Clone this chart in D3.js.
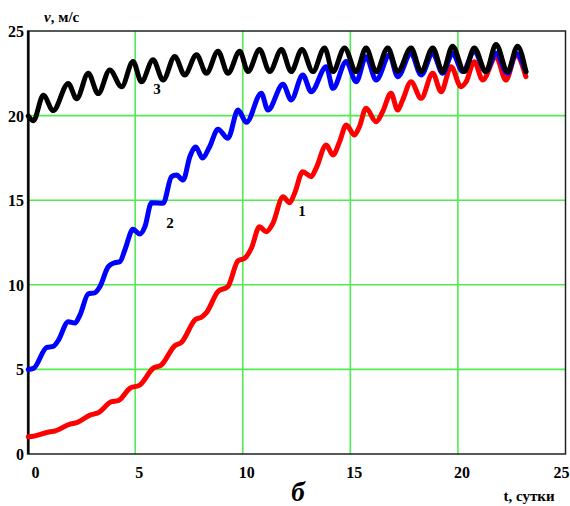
<!DOCTYPE html>
<html>
<head>
<meta charset="utf-8">
<script src="https://cdn.jsdelivr.net/npm/d3@7"></script>
<style>
  body { margin: 0; background: #fff; }
  text { font-family: "Liberation Serif", "Times New Roman", serif; font-weight: bold; }
</style>
</head>
<body>
<div class="content"></div>
<script>
// curve 1 (red): [t, v]
const curve1 = [[0.03,1.02],[0.27,1.05],[1.04,1.32],[1.27,1.36],[1.97,1.77],[2.28,1.85],[2.9,2.3],[3.28,2.44],
  [3.9,3.09],[4.21,3.15],[4.75,3.88],[5.22,4.08],[5.83,5.06],[6.22,5.26],[6.84,6.4],[7.15,6.6],[7.8,7.95],
  [8.08,8.08],[8.31,8.35],[8.85,9.6],[9.31,9.9],[9.78,11.42],[10.09,11.57],[10.4,12.16],[10.78,13.43],
  [11.09,13.14],[11.4,13.63],[11.87,15.2],[12.18,14.85],[12.41,15.41],[12.79,16.68],[13.18,16.39],
  [13.41,16.89],[13.88,18.26],[14.19,17.67],[14.5,18.46],[14.81,19.44],[15.19,18.85],[15.42,19.34],
  [15.73,20.43],[16.2,19.64],[16.5,20.23],[16.89,21.32],[17.2,20.33],[17.43,20.92],[17.82,22.0],
  [18.29,21.02],[18.83,22.5],[19.22,21.41],[19.68,22.89],[20.14,21.71],[20.38,22.0],[20.76,23.19],
  [21.15,22.1],[21.77,23.48],[22.23,22.1],[22.7,23.58],[23.16,22.3]];
// curve 2 (blue)
const curve2 = [[0.03,5.0],[0.27,5.06],[0.89,6.3],[1.19,6.36],[1.42,6.7],[1.89,7.82],[2.2,7.74],[2.43,8.2],
  [2.82,9.46],[3.13,9.53],[3.36,9.89],[3.75,11.07],[4.06,11.31],[4.29,11.37],[4.52,12.06],[4.9,13.28],
  [5.22,13.0],[5.45,13.43],[5.76,14.85],[6.3,14.82],[6.69,16.39],[6.92,16.49],[7.23,16.19],[7.54,17.57],
  [7.82,18.15],[8.12,17.5],[8.46,18.16],[8.85,19.2],[9.31,18.66],[9.78,20.33],[10.17,19.6],[10.86,21.32],
  [11.17,20.33],[11.87,21.85],[12.25,20.92],[12.79,22.4],[13.18,21.41],[13.88,22.89],[14.19,21.61],
  [14.81,23.19],[15.27,22.0],[15.73,23.48],[16.2,22.1],[16.82,23.58],[17.2,22.3],[17.82,23.68],
  [18.29,22.4],[18.83,23.68],[19.29,22.5],[19.75,23.68],[20.22,22.6],[20.76,23.78],[21.3,22.6],
  [21.77,23.68],[22.31,22.5],[22.7,23.68],[23.16,22.6]];
// curve 3 (black)
const curve3 = [[0.03,19.98],[0.27,19.7],[0.73,21.2],[1.19,20.3],[1.89,21.9],[2.28,21.0],[2.82,22.5],
  [3.28,21.3],[3.82,22.7],[4.37,21.7],[4.9,23.2],[5.29,22.0],[5.83,23.3],[6.3,22.1],[6.84,23.5],[7.3,22.4],
  [7.85,23.6],[8.31,22.5],[8.85,23.8],[9.31,22.5],[9.86,23.8],[10.24,22.6],[10.78,23.9],[11.25,22.6],
  [11.8,23.9],[12.25,22.6],[12.75,23.9],[13.26,22.6],[13.8,24.0],[14.19,22.6],[14.73,24.0],[15.27,22.6],
  [15.73,24.0],[16.2,22.6],[16.74,24.0],[17.2,22.6],[17.82,24.0],[18.29,22.6],[18.83,24.0],[19.29,22.6],
  [19.75,24.1],[20.3,22.6],[20.76,24.0],[21.3,22.6],[21.77,24.2],[22.31,22.6],[22.77,24.1],[23.16,22.6]];

const xTicks = [0, 5, 10, 15, 20, 25];
const yTicks = [0, 5, 10, 15, 20, 25];
const curveLabels = [["3", 6.01, 21.6], ["2", 6.62, 13.65], ["1", 12.75, 14.36]];

function main() {
  const svgW = 570, svgH = 506;
  const svg = d3.select('.content').append('svg')
                .attr('width', svgW)
                .attr('height', svgH);

  const x = d3.scaleLinear().domain([0, 25]).range([27.6, 565.5]);
  const y = d3.scaleLinear().domain([0, 25]).range([454, 31]);

  // grid
  svg.append('g').selectAll('line').data(xTicks.slice(1, -1)).join('line')
     .attr('x1', d => x(d)).attr('x2', d => x(d))
     .attr('y1', y(25)).attr('y2', y(0))
     .attr('stroke', '#4fec4f').attr('stroke-width', 1.6);
  svg.append('g').selectAll('line').data(yTicks.slice(1, -1)).join('line')
     .attr('x1', x(0)).attr('x2', x(25))
     .attr('y1', d => y(d)).attr('y2', d => y(d))
     .attr('stroke', '#4fec4f').attr('stroke-width', 1.6);

  // frame
  svg.append('rect')
     .attr('x', x(0)).attr('y', y(25))
     .attr('width', x(25) - x(0)).attr('height', y(0) - y(25))
     .attr('fill', 'none').attr('stroke', '#1c261c').attr('stroke-width', 1.5);
  svg.append('line')
     .attr('x1', x(0) + 1).attr('x2', x(0) + 1).attr('y1', y(25)).attr('y2', y(0))
     .attr('stroke', '#000').attr('stroke-width', 2);

  // tick labels
  svg.append('g').selectAll('text').data(yTicks).join('text')
     .attr('x', 24).attr('y', d => y(d) + 6)
     .attr('text-anchor', 'end').attr('font-size', 16)
     .text(d => d);
  // offsets of x labels from their ticks, the last one kept inside the picture
  svg.append('g').selectAll('text').data(xTicks).join('text')
     .attr('x', d => x(d) + (d === 0 ? 8 : d === 25 ? -4 : 4)).attr('y', 478)
     .attr('text-anchor', 'middle').attr('font-size', 16)
     .text(d => d);

  // curves
  const line = d3.line()
                 .x(d => x(d[0]))
                 .y(d => y(d[1]))
                 .curve(d3.curveMonotoneX);
  [[curve1, '#ff0000'], [curve2, '#0000ff'], [curve3, '#000000']].forEach(([data, color]) => {
    svg.append('path').datum(data)
       .attr('d', line)
       .attr('fill', 'none')
       .attr('stroke', color)
       .attr('stroke-width', 5)
       .attr('stroke-linejoin', 'round')
       .attr('stroke-linecap', 'round');
  });

  svg.append('g').selectAll('text').data(curveLabels).join('text')
     .attr('x', d => x(d[1])).attr('y', d => y(d[2]) + 5)
     .attr('text-anchor', 'middle').attr('font-size', 15)
     .text(d => d[0]);

  // axis titles
  const vt = svg.append('text').attr('x', 44).attr('y', 22).attr('font-size', 15);
  vt.append('tspan').attr('font-style', 'italic').text('v');
  vt.append('tspan').text(', м/с');
  svg.append('text').attr('x', 529).attr('y', 501).attr('text-anchor', 'middle')
     .attr('font-size', 15).text('t, сутки');
  svg.append('text').attr('x', 298).attr('y', 501).attr('text-anchor', 'middle')
     .attr('font-size', 27).attr('font-style', 'italic').text('б');
}
main();
</script>
</body>
</html>
